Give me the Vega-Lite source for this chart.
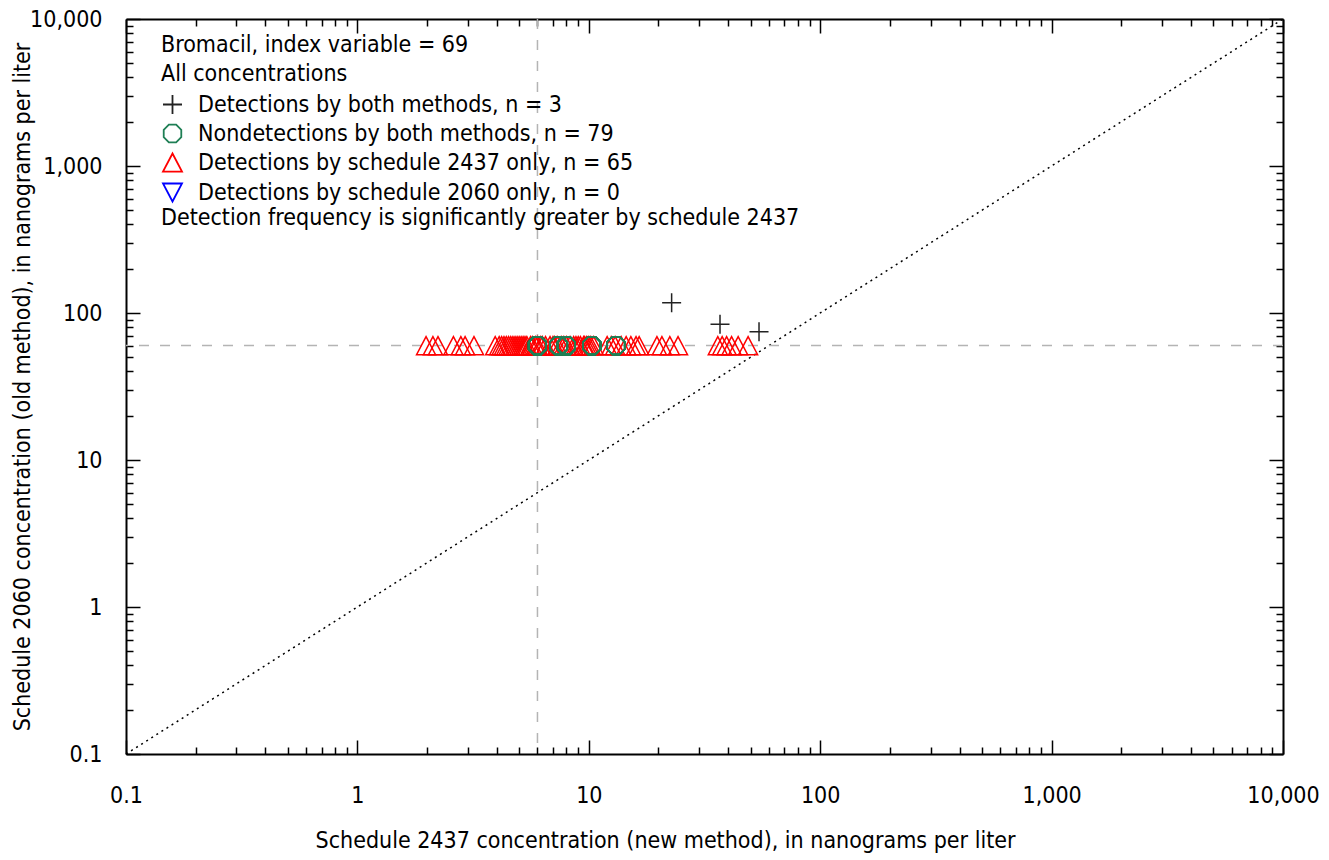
{
  "$schema": "https://vega.github.io/schema/vega-lite/v6.json",
  "width": 1157,
  "height": 735,
  "autosize": {"type": "none"},
  "padding": {"left": 126, "top": 19, "right": 46, "bottom": 106},
  "background": "white",
  "config": {
    "font": "Liberation Sans Narrow, DejaVu Sans Condensed, sans-serif",
    "view": {"stroke": null},
    "axis": {"labelFontSize": 23, "titleFontSize": 23, "labelColor": "#000", "titleColor": "#000", "titleFontWeight": "normal", "domainColor": "#000", "domainWidth": 2, "tickColor": "#000", "tickWidth": 1.5, "grid": false, "labelOverlap": false, "labelFlush": false}
  },
  "resolve": {"axis": {"x": "independent", "y": "independent"}},
  "layer": [
    {
      "data": {"values": [{"d": 0.1}, {"d": 10000}]},
      "mark": {"type": "line", "strokeDash": [2, 4], "color": "#000", "strokeWidth": 1.5},
      "encoding": {
        "x": {"field": "d", "type": "quantitative", "scale": {"type": "log", "domain": [0.1, 10000], "nice": false},
          "axis": {"orient": "bottom", "values": [0.1,0.2,0.3,0.4,0.5,0.6,0.7,0.8,0.9,1,2,3,4,5,6,7,8,9,10,20,30,40,50,60,70,80,90,100,200,300,400,500,600,700,800,900,1000,2000,3000,4000,5000,6000,7000,8000,9000,10000],
            "labelExpr": "indexof([0.1,1,10,100,1000,10000], datum.value) >= 0 ? (datum.value < 1 ? '0.1' : format(datum.value, ',')) : ''",
            "tickSize": {"condition": {"test": "indexof([0.1,1,10,100,1000,10000], datum.value) >= 0", "value": -14}, "value": -7},
            "labelPadding": 44, "titlePadding": 15, "titleX": 539, "titleAlign": "center",
            "title": "Schedule 2437 concentration (new method), in nanograms per liter"}},
        "y": {"field": "d", "type": "quantitative", "scale": {"type": "log", "domain": [0.1, 10000], "nice": false},
          "axis": {"orient": "left", "values": [0.1,0.2,0.3,0.4,0.5,0.6,0.7,0.8,0.9,1,2,3,4,5,6,7,8,9,10,20,30,40,50,60,70,80,90,100,200,300,400,500,600,700,800,900,1000,2000,3000,4000,5000,6000,7000,8000,9000,10000],
            "labelExpr": "indexof([0.1,1,10,100,1000,10000], datum.value) >= 0 ? (datum.value < 1 ? '0.1' : format(datum.value, ',')) : ''",
            "tickSize": {"condition": {"test": "indexof([0.1,1,10,100,1000,10000], datum.value) >= 0", "value": -14}, "value": -7},
            "labelPadding": 38, "titlePadding": -5,
            "title": "Schedule 2060 concentration (old method), in nanograms per liter"}}
      }
    },
    {
      "data": {"values": [{"rx": 6}]},
      "mark": {"type": "rule", "color": "#b4b4b4", "strokeWidth": 1.5, "strokeDash": [10, 11]},
      "encoding": {
        "x": {"field": "rx", "type": "quantitative", "scale": {"type": "log", "domain": [0.1, 10000], "nice": false},
          "axis": {"orient": "top", "values": [0.1,0.2,0.3,0.4,0.5,0.6,0.7,0.8,0.9,1,2,3,4,5,6,7,8,9,10,20,30,40,50,60,70,80,90,100,200,300,400,500,600,700,800,900,1000,2000,3000,4000,5000,6000,7000,8000,9000,10000],
            "labels": false, "title": null,
            "tickSize": {"condition": {"test": "indexof([0.1,1,10,100,1000,10000], datum.value) >= 0", "value": -14}, "value": -7}}}
      }
    },
    {
      "data": {"values": [{"ry": 60}]},
      "mark": {"type": "rule", "color": "#b4b4b4", "strokeWidth": 1.5, "strokeDash": [10, 11]},
      "encoding": {
        "y": {"field": "ry", "type": "quantitative", "scale": {"type": "log", "domain": [0.1, 10000], "nice": false},
          "axis": {"orient": "right", "values": [0.1,0.2,0.3,0.4,0.5,0.6,0.7,0.8,0.9,1,2,3,4,5,6,7,8,9,10,20,30,40,50,60,70,80,90,100,200,300,400,500,600,700,800,900,1000,2000,3000,4000,5000,6000,7000,8000,9000,10000],
            "labels": false, "title": null,
            "tickSize": {"condition": {"test": "indexof([0.1,1,10,100,1000,10000], datum.value) >= 0", "value": -14}, "value": -7}}}
      }
    },
    {
      "data": {"values": [
        {"x": 1.98, "y": 60, "t": "new"}, {"x": 2.12, "y": 60, "t": "new"}, {"x": 2.23, "y": 60, "t": "new"}, {"x": 2.6, "y": 60, "t": "new"}, {"x": 2.8, "y": 60, "t": "new"}, {"x": 2.92, "y": 60, "t": "new"}, {"x": 3.19, "y": 60, "t": "new"},
        {"x": 3.94, "y": 60, "t": "new"}, {"x": 4.1, "y": 60, "t": "new"}, {"x": 4.2, "y": 60, "t": "new"}, {"x": 4.3, "y": 60, "t": "new"}, {"x": 4.4, "y": 60, "t": "new"}, {"x": 4.5, "y": 60, "t": "new"}, {"x": 4.6, "y": 60, "t": "new"}, {"x": 4.7, "y": 60, "t": "new"}, {"x": 4.8, "y": 60, "t": "new"}, {"x": 4.9, "y": 60, "t": "new"}, {"x": 5.0, "y": 60, "t": "new"}, {"x": 5.1, "y": 60, "t": "new"}, {"x": 5.2, "y": 60, "t": "new"}, {"x": 5.3, "y": 60, "t": "new"}, {"x": 5.4, "y": 60, "t": "new"}, {"x": 5.6, "y": 60, "t": "new"}, {"x": 5.7, "y": 60, "t": "new"},
        {"x": 5.9, "y": 60, "t": "new"}, {"x": 6.0, "y": 60, "t": "new"}, {"x": 6.2, "y": 60, "t": "new"}, {"x": 6.3, "y": 60, "t": "new"}, {"x": 6.5, "y": 60, "t": "new"}, {"x": 6.8, "y": 60, "t": "new"}, {"x": 7.0, "y": 60, "t": "new"}, {"x": 7.1, "y": 60, "t": "new"}, {"x": 7.3, "y": 60, "t": "new"}, {"x": 7.6, "y": 60, "t": "new"}, {"x": 7.8, "y": 60, "t": "new"}, {"x": 8.0, "y": 60, "t": "new"}, {"x": 8.3, "y": 60, "t": "new"}, {"x": 8.6, "y": 60, "t": "new"}, {"x": 8.8, "y": 60, "t": "new"}, {"x": 9.0, "y": 60, "t": "new"},
        {"x": 9.2, "y": 60, "t": "new"}, {"x": 9.5, "y": 60, "t": "new"}, {"x": 9.6, "y": 60, "t": "new"}, {"x": 9.8, "y": 60, "t": "new"}, {"x": 10.0, "y": 60, "t": "new"}, {"x": 10.2, "y": 60, "t": "new"}, {"x": 10.5, "y": 60, "t": "new"},
        {"x": 12.0, "y": 60, "t": "new"}, {"x": 12.5, "y": 60, "t": "new"}, {"x": 13.0, "y": 60, "t": "new"}, {"x": 13.8, "y": 60, "t": "new"},
        {"x": 14.5, "y": 60, "t": "new"}, {"x": 15.2, "y": 60, "t": "new"}, {"x": 16.0, "y": 60, "t": "new"}, {"x": 16.5, "y": 60, "t": "new"},
        {"x": 19.7, "y": 60, "t": "new"}, {"x": 20.7, "y": 60, "t": "new"}, {"x": 22.4, "y": 60, "t": "new"}, {"x": 24.3, "y": 60, "t": "new"},
        {"x": 36.1, "y": 60, "t": "new"}, {"x": 37.7, "y": 60, "t": "new"}, {"x": 39.4, "y": 60, "t": "new"}, {"x": 41.4, "y": 60, "t": "new"}, {"x": 44.2, "y": 60, "t": "new"}, {"x": 48.8, "y": 60, "t": "new"},
        {"x": 6.0, "y": 60, "t": "nd"}, {"x": 6.0, "y": 60, "t": "nd"}, {"x": 6.0, "y": 60, "t": "nd"}, {"x": 6.0, "y": 60, "t": "nd"}, {"x": 6.0, "y": 60, "t": "nd"}, {"x": 6.0, "y": 60, "t": "nd"}, {"x": 6.0, "y": 60, "t": "nd"}, {"x": 6.0, "y": 60, "t": "nd"}, {"x": 6.0, "y": 60, "t": "nd"}, {"x": 6.0, "y": 60, "t": "nd"},
        {"x": 6.0, "y": 60, "t": "nd"}, {"x": 6.0, "y": 60, "t": "nd"}, {"x": 6.0, "y": 60, "t": "nd"}, {"x": 6.0, "y": 60, "t": "nd"}, {"x": 6.0, "y": 60, "t": "nd"}, {"x": 6.0, "y": 60, "t": "nd"}, {"x": 6.0, "y": 60, "t": "nd"}, {"x": 6.0, "y": 60, "t": "nd"}, {"x": 6.0, "y": 60, "t": "nd"}, {"x": 6.0, "y": 60, "t": "nd"},
        {"x": 6.0, "y": 60, "t": "nd"}, {"x": 6.0, "y": 60, "t": "nd"}, {"x": 6.0, "y": 60, "t": "nd"}, {"x": 6.0, "y": 60, "t": "nd"}, {"x": 6.0, "y": 60, "t": "nd"}, {"x": 6.0, "y": 60, "t": "nd"}, {"x": 6.0, "y": 60, "t": "nd"}, {"x": 6.0, "y": 60, "t": "nd"}, {"x": 6.0, "y": 60, "t": "nd"}, {"x": 6.0, "y": 60, "t": "nd"},
        {"x": 7.4, "y": 60, "t": "nd"}, {"x": 7.4, "y": 60, "t": "nd"}, {"x": 7.4, "y": 60, "t": "nd"}, {"x": 7.4, "y": 60, "t": "nd"}, {"x": 7.4, "y": 60, "t": "nd"}, {"x": 7.4, "y": 60, "t": "nd"}, {"x": 7.4, "y": 60, "t": "nd"}, {"x": 7.4, "y": 60, "t": "nd"}, {"x": 7.4, "y": 60, "t": "nd"}, {"x": 7.4, "y": 60, "t": "nd"},
        {"x": 8.0, "y": 60, "t": "nd"}, {"x": 8.0, "y": 60, "t": "nd"}, {"x": 8.0, "y": 60, "t": "nd"}, {"x": 8.0, "y": 60, "t": "nd"}, {"x": 8.0, "y": 60, "t": "nd"}, {"x": 8.0, "y": 60, "t": "nd"}, {"x": 8.0, "y": 60, "t": "nd"}, {"x": 8.0, "y": 60, "t": "nd"}, {"x": 8.0, "y": 60, "t": "nd"}, {"x": 8.0, "y": 60, "t": "nd"},
        {"x": 8.0, "y": 60, "t": "nd"}, {"x": 8.0, "y": 60, "t": "nd"}, {"x": 8.0, "y": 60, "t": "nd"}, {"x": 8.0, "y": 60, "t": "nd"}, {"x": 8.0, "y": 60, "t": "nd"},
        {"x": 10.3, "y": 60, "t": "nd"}, {"x": 10.3, "y": 60, "t": "nd"}, {"x": 10.3, "y": 60, "t": "nd"}, {"x": 10.3, "y": 60, "t": "nd"}, {"x": 10.3, "y": 60, "t": "nd"}, {"x": 10.3, "y": 60, "t": "nd"}, {"x": 10.3, "y": 60, "t": "nd"}, {"x": 10.3, "y": 60, "t": "nd"}, {"x": 10.3, "y": 60, "t": "nd"}, {"x": 10.3, "y": 60, "t": "nd"},
        {"x": 10.3, "y": 60, "t": "nd"}, {"x": 10.3, "y": 60, "t": "nd"}, {"x": 10.3, "y": 60, "t": "nd"}, {"x": 10.3, "y": 60, "t": "nd"},
        {"x": 13.1, "y": 60, "t": "nd"}, {"x": 13.1, "y": 60, "t": "nd"}, {"x": 13.1, "y": 60, "t": "nd"}, {"x": 13.1, "y": 60, "t": "nd"}, {"x": 13.1, "y": 60, "t": "nd"}, {"x": 13.1, "y": 60, "t": "nd"}, {"x": 13.1, "y": 60, "t": "nd"}, {"x": 13.1, "y": 60, "t": "nd"}, {"x": 13.1, "y": 60, "t": "nd"}, {"x": 13.1, "y": 60, "t": "nd"},
        {"x": 22.8, "y": 117.5, "t": "both"}, {"x": 36.9, "y": 83.8, "t": "both"}, {"x": 54.4, "y": 74.6, "t": "both"}
      ]},
      "mark": {"type": "point", "filled": false, "strokeWidth": 1.5, "size": 361, "opacity": 1},
      "encoding": {
        "x": {"field": "x", "type": "quantitative", "scale": {"type": "log", "domain": [0.1, 10000], "nice": false}, "axis": null},
        "y": {"field": "y", "type": "quantitative", "scale": {"type": "log", "domain": [0.1, 10000], "nice": false}, "axis": null},
        "shape": {"field": "t", "type": "nominal",
          "scale": {"domain": ["both", "nd", "new", "old"], "range": ["M-1,0H1M0,-1V1", "M0.383,-0.924L0.924,-0.383L0.924,0.383L0.383,0.924L-0.383,0.924L-0.924,0.383L-0.924,-0.383L-0.383,-0.924Z", "M0,-0.95L1,0.95L-1,0.95Z", "M0,0.95L1,-0.95L-1,-0.95Z"]},
          "legend": {"orient": "none", "legendX": 35, "legendY": 15, "padding": 0,
            "title": ["Bromacil, index variable = 69", "All concentrations"],
            "titleFontSize": 23, "titleLineHeight": 29, "titleFontWeight": "normal", "titleColor": "#000", "titlePadding": 7, "titleLimit": 0,
            "labelFontSize": 23, "labelColor": "#000", "labelLimit": 0, "symbolSize": 361, "symbolStrokeWidth": 1.8, "rowPadding": 3, "labelOffset": 14,
            "labelExpr": "{'both': 'Detections by both methods, n = 3', 'nd': 'Nondetections by both methods,  n = 79', 'new': 'Detections by schedule 2437 only, n = 65', 'old': 'Detections by schedule 2060 only,  n = 0'}[datum.label]"}},
        "color": {"field": "t", "type": "nominal",
          "scale": {"domain": ["both", "nd", "new", "old"], "range": ["#222222", "#1f7f55", "#ff0000", "#0000ff"]},
          "legend": {"orient": "none", "legendX": 35, "legendY": 15, "padding": 0,
            "title": ["Bromacil, index variable = 69", "All concentrations"],
            "titleFontSize": 23, "titleLineHeight": 29, "titleFontWeight": "normal", "titleColor": "#000", "titlePadding": 7, "titleLimit": 0,
            "labelFontSize": 23, "labelColor": "#000", "labelLimit": 0, "symbolSize": 361, "symbolStrokeWidth": 1.8, "rowPadding": 3, "labelOffset": 14,
            "labelExpr": "{'both': 'Detections by both methods, n = 3', 'nd': 'Nondetections by both methods,  n = 79', 'new': 'Detections by schedule 2437 only, n = 65', 'old': 'Detections by schedule 2060 only,  n = 0'}[datum.label]"}}
      }
    },
    {
      "data": {"values": [{"label": "Detection frequency is significantly greater by schedule 2437"}]},
      "mark": {"type": "text", "align": "left", "baseline": "middle", "fontSize": 23, "color": "#000"},
      "encoding": {
        "x": {"datum": 0.1416, "type": "quantitative", "scale": {"type": "log", "domain": [0.1, 10000], "nice": false}, "axis": null},
        "y": {"datum": 441, "type": "quantitative", "scale": {"type": "log", "domain": [0.1, 10000], "nice": false}, "axis": null},
        "text": {"field": "label"}
      }
    }
  ]
}
